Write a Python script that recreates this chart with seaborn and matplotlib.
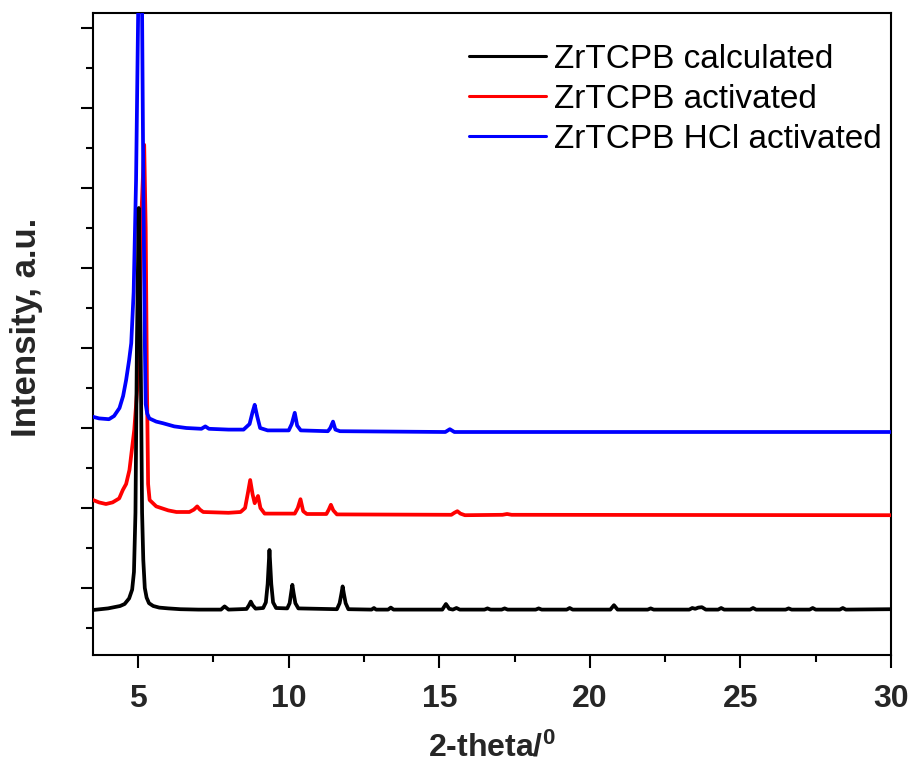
import matplotlib
matplotlib.use("Agg")
import matplotlib.pyplot as plt
import seaborn as sns
import pandas as pd
from matplotlib.ticker import MultipleLocator
from matplotlib.lines import Line2D

# ---- data (intensity in arbitrary, offset units) ----
calc_x = [3.5, 4.0, 4.4, 4.55, 4.7, 4.8, 4.86, 4.91, 4.96, 5.02, 5.08, 5.13, 5.17, 5.22, 5.28,
          5.36, 5.5, 5.7, 6.0, 6.4,
          7.0, 7.75, 7.87, 8.0, 8.6, 8.68, 8.74, 8.8, 8.9, 9.15, 9.24, 9.3, 9.36, 9.42, 9.48,
          9.58, 9.95, 10.03, 10.08, 10.12, 10.16, 10.22, 10.32, 11.6, 11.69, 11.75, 11.79,
          11.83, 11.89, 11.98, 12.75, 12.83, 12.9, 13.3, 13.39, 13.48,
          15.1, 15.22, 15.33, 15.45, 15.57, 15.68, 16.5, 16.6, 16.7, 17.07, 17.17, 17.27, 18.2,
          18.3, 18.4, 19.23, 19.33, 19.43, 20.68, 20.8, 20.92, 21.92, 22.02, 22.12, 23.3, 23.4,
          23.5, 23.6, 23.72, 23.85, 24.26, 24.36, 24.46, 25.32, 25.42, 25.52, 26.5, 26.6, 26.7,
          27.3, 27.4, 27.5, 28.3, 28.4, 28.5, 30.0]
calc_y = [-0.275, -0.255, -0.225, -0.2, -0.13, -0.02, 0.2, 0.94, 3.1, 4.75, 3.1, 0.94, 0.35,
          0.0, -0.12, -0.19, -0.225, -0.245, -0.255, -0.265,
          -0.27, -0.27, -0.23, -0.27, -0.262, -0.215, -0.17, -0.215, -0.258, -0.25, -0.18,
          0.05, 0.475, 0.05, -0.18, -0.25, -0.255, -0.19, -0.06, 0.04, -0.06, -0.19, -0.255,
          -0.265, -0.19, -0.07, 0.02, -0.07, -0.19, -0.265,
          -0.27, -0.25, -0.27, -0.27, -0.245, -0.27, -0.27, -0.2, -0.26, -0.27, -0.25, -0.27,
          -0.27, -0.255, -0.27, -0.27, -0.255, -0.27, -0.27, -0.255, -0.27, -0.27, -0.25, -0.27,
          -0.27, -0.215, -0.27, -0.27, -0.255, -0.27, -0.27, -0.25, -0.26, -0.245, -0.24, -0.27,
          -0.27, -0.25, -0.27, -0.27, -0.25, -0.27, -0.27, -0.255, -0.27, -0.27, -0.25, -0.27,
          -0.27, -0.25, -0.27, -0.265]

act_x = [3.5, 3.7, 3.93, 4.15, 4.37, 4.49, 4.6, 4.71, 4.87, 4.99, 5.04, 5.1, 5.2, 5.25, 5.29,
         5.33, 5.38, 5.6, 6.0, 6.27, 6.7, 6.85, 6.96, 7.05, 7.16, 8.0, 8.4, 8.55, 8.65, 8.72,
         8.8, 8.87, 8.98, 9.06, 9.2, 10.2, 10.3, 10.39, 10.48, 10.6, 11.25, 11.33, 11.4, 11.48,
         11.6, 15.4, 15.5, 15.6, 15.7, 15.85, 17.1, 17.25, 17.4, 30.0]
act_y = [1.10, 1.07, 1.05, 1.07, 1.12, 1.225, 1.30, 1.475, 1.975, 2.6, 3.2, 4.6, 5.54, 4.5,
         2.6, 1.3, 1.10, 1.02, 0.97, 0.95, 0.95, 0.98, 1.02, 0.98, 0.95, 0.94, 0.95, 1.0, 1.2,
         1.35, 1.17, 1.06, 1.15, 1.0, 0.93, 0.93, 1.0, 1.11, 0.96, 0.925, 0.925, 0.98, 1.04,
         0.97, 0.92, 0.915, 0.94, 0.96, 0.93, 0.91, 0.915, 0.925, 0.915, 0.91]

hcl_x = [3.5, 3.7, 4.03, 4.2, 4.38, 4.5, 4.6, 4.7, 4.77, 4.85, 4.93, 5.0, 5.07, 5.13, 5.17,
         5.22, 5.25, 5.3, 5.37, 5.6, 5.82, 6.2, 6.6, 7.1, 7.23, 7.35, 8.0, 8.5, 8.7, 8.8, 8.87,
         8.95, 9.05, 9.3, 10.0, 10.1, 10.2, 10.28, 10.4, 11.3, 11.38, 11.47, 11.55, 11.7, 15.2,
         15.35, 15.5, 30.0]
hcl_y = [2.14, 2.12, 2.11, 2.15, 2.25, 2.4, 2.6, 2.85, 3.06, 3.7, 5.1, 7.2, 9.0, 7.2, 5.1,
         3.1, 2.3, 2.18, 2.12, 2.08, 2.06, 2.02, 2.0, 1.99, 2.02, 1.99, 1.98, 1.98, 2.05, 2.2,
         2.29, 2.15, 2.0, 1.97, 1.97, 2.05, 2.19, 2.03, 1.97, 1.96, 2.0, 2.08, 1.98, 1.96, 1.95,
         1.985, 1.95, 1.95]

series_names = ["ZrTCPB calculated", "ZrTCPB activated", "ZrTCPB HCl activated"]
series_colors = ["#000000", "#ff0000", "#0000ff"]
x_ticks = [5, 10, 15, 20, 25, 30]

# ---- style ----
sns.set_theme(style="ticks")
plt.rcParams["font.family"] = ["Liberation Sans", "DejaVu Sans"]
plt.rcParams["mathtext.fontset"] = "custom"
plt.rcParams["mathtext.rm"] = "Liberation Sans:bold"
plt.rcParams["mathtext.default"] = "rm"

fig = plt.figure(figsize=(9.13, 7.67), dpi=100)
ax = fig.add_axes([93 / 913, 1 - 655 / 767, (891 - 93) / 913, (655 - 13) / 767])

frames = [
    pd.DataFrame({"x": calc_x, "y": calc_y, "s": series_names[0]}),
    pd.DataFrame({"x": act_x, "y": act_y, "s": series_names[1]}),
    pd.DataFrame({"x": hcl_x, "y": hcl_y, "s": series_names[2]}),
]
zorders = [5, 3, 4]
for df, c, z in zip(frames, series_colors, zorders):
    sns.lineplot(data=df, x="x", y="y", ax=ax, color=c, linewidth=2.7,
                 estimator=None, sort=False, zorder=z, legend=False)

ax.set_xlim(3.5, 30)
ax.set_ylim(-0.8375, 7.1875)
ax.set_xticks(x_ticks)
ax.set_xticklabels([str(t) for t in x_ticks])
ax.xaxis.set_minor_locator(MultipleLocator(2.5))
ax.yaxis.set_major_locator(MultipleLocator(1))
ax.yaxis.set_minor_locator(MultipleLocator(0.5))
ax.set_yticklabels([])
ax.tick_params(axis="both", which="major", direction="out", length=9, width=1.5,
               color="black", top=False, right=False)
ax.tick_params(axis="both", which="minor", direction="out", length=5, width=1.5,
               color="black", top=False, right=False)
ax.tick_params(axis="x", which="major", labelsize=23, pad=12)
for lab in ax.get_xticklabels():
    lab.set_fontweight("bold")
for sp in ax.spines.values():
    sp.set_visible(True)
    sp.set_linewidth(1.5)
    sp.set_color("black")

ax.set_xlabel("2-theta/$^{0}$", fontsize=23, fontweight="bold", labelpad=13)
ax.set_ylabel("Intensity, a.u.", fontsize=25, fontweight="bold", labelpad=20)
ax.yaxis.set_label_coords(-0.0625, 0.51)

handles = [Line2D([], [], color=c, linewidth=2.2) for c in series_colors]
leg = ax.legend(handles, series_names, loc="upper left",
                bbox_to_anchor=(469 / 913, 1 - 44 / 767), bbox_transform=fig.transFigure,
                frameon=False, fontsize=24, handlelength=2.3, handletextpad=0.24,
                labelspacing=0.27, borderpad=0, borderaxespad=0)
for t in leg.get_texts():
    t.set_color("black")

fig.savefig("out.png", dpi=100)
